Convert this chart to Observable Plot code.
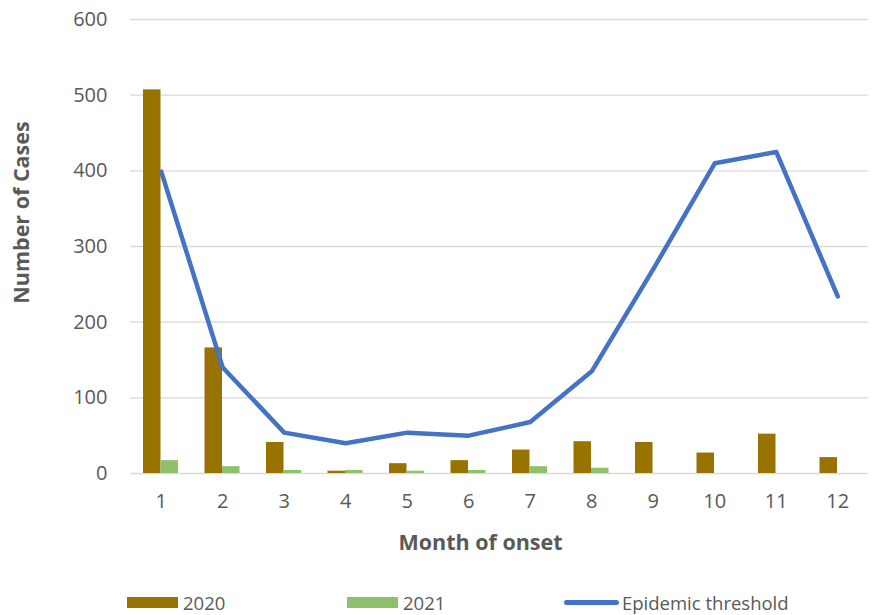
<!DOCTYPE html>
<html>
<head>
<meta charset="utf-8">
<script src="https://cdn.jsdelivr.net/npm/d3@7"></script>
<script src="https://cdn.jsdelivr.net/npm/@observablehq/plot@0.6"></script>
<style>
  body { margin: 0; background: #fff; font-family: "Open Sans", sans-serif; }
  #wrap { position: relative; width: 875px; height: 615px; }
  #legend { position: absolute; left: 0; top: 590px; width: 875px; height: 25px; font-size: 18.5px; color: #595959; }
  .item { position: absolute; top: 0; display: flex; align-items: center; height: 25px; }
  .sw { display: inline-block; width: 51px; height: 11px; margin-right: 5px; }
  .ln { display: inline-block; width: 55px; height: 5px; border-radius: 3px; margin-right: 3px; background: #4472c4; }
</style>
</head>
<body>
<div id="wrap">
  <div id="chart"></div>
  <div id="legend">
    <div class="item" style="left:127px"><span class="sw" style="background:#997300"></span>2020</div>
    <div class="item" style="left:347px"><span class="sw" style="background:#8fc16a"></span>2021</div>
    <div class="item" style="left:564px"><span class="ln"></span>Epidemic threshold</div>
  </div>
</div>
<script>
const months = [1,2,3,4,5,6,7,8,9,10,11,12];
const cases2020 = [507,166,41,3,13,17,31,42,41,27,52,21];
const cases2021 = [17,9,4,4,3,4,9,7,null,null,null,null];
const threshold = [399,140,54,40,54,50,68,135,270,410,425,234];
const yTicks = [0,100,200,300,400,500,600];

const d2020 = months.map((m,i) => ({month: m, value: cases2020[i]}));
const d2021 = months.map((m,i) => ({month: m, value: cases2021[i]})).filter(d => d.value != null);
const dThr = months.map((m,i) => ({month: m, value: threshold[i]}));

const textColor = "#595959";

const chart = Plot.plot({
  width: 875,
  height: 590,
  marginLeft: 130,
  marginRight: 7,
  marginTop: 19,
  marginBottom: 117,
  style: {fontFamily: "Open Sans, sans-serif", fontSize: "20px", color: textColor, background: "#fff"},
  x: {type: "band", domain: months, padding: 0, round: false},
  y: {domain: [0, 600]},
  marks: [
    Plot.gridY(yTicks, {stroke: "#d9d9d9", strokeOpacity: 1, strokeWidth: 1.3}),
    Plot.axisY(yTicks, {tickSize: 0, tickPadding: 23, label: null, fill: textColor, fontSize: 20}),
    Plot.axisX(months, {tickSize: 0, tickPadding: 20, label: null, fill: textColor, fontSize: 20}),
    Plot.barY(d2020, {x: "month", y: "value", fill: "#997300", insetLeft: 13, insetRight: 31}),
    Plot.barY(d2021, {x: "month", y: "value", fill: "#8fc16a", insetLeft: 30.5, insetRight: 13.5}),
    Plot.line(dThr, {x: "month", y: "value", stroke: "#4472c4", strokeWidth: 4.5, strokeLinejoin: "round"}),
    Plot.text(["Number of Cases"], {frameAnchor: "left", dx: -108, dy: -34, rotate: -90, textAnchor: "middle", lineAnchor: "middle", fontWeight: "bold", fontSize: 21.5, fill: textColor}),
    Plot.text(["Month of onset"], {frameAnchor: "bottom", dy: 70, dx: -19, textAnchor: "middle", lineAnchor: "middle", fontWeight: "bold", fontSize: 21.5, fill: textColor})
  ]
});
document.getElementById("chart").appendChild(chart);
</script>
</body>
</html>
